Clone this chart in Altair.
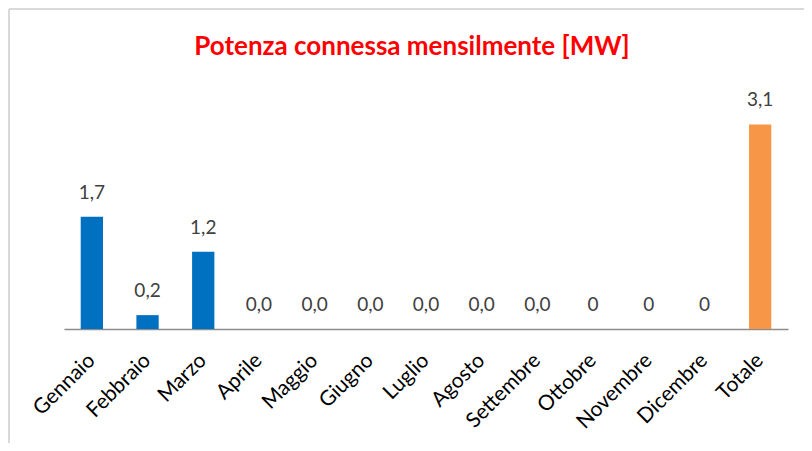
import altair as alt
import pandas as pd

categories = ["Gennaio", "Febbraio", "Marzo", "Aprile", "Maggio", "Giugno",
              "Luglio", "Agosto", "Settembre", "Ottobre", "Novembre", "Dicembre", "Totale"]
values = [1.7, 0.21, 1.17, 0, 0, 0, 0, 0, 0, 0, 0, 0, 3.1]
labels = ["1,7", "0,2", "1,2", "0,0", "0,0", "0,0", "0,0", "0,0", "0,0", "0", "0", "0", "3,1"]
kinds = ["mese"] * 12 + ["totale"]

df = pd.DataFrame({"cat": categories, "val": values, "lab": labels, "kind": kinds})

FONT = "Lato"

x = alt.X("cat:N", sort=categories, title=None,
          scale=alt.Scale(paddingInner=0.6, paddingOuter=0.3),
          axis=alt.Axis(labelAngle=-45, labelAlign="right", labelBaseline="middle",
                        labelPadding=28, labelFontSize=21, labelColor="#000000",
                        labelFont=FONT, ticks=False, domainColor="#8c8c8c",
                        domainWidth=1.5, labelOverlap=False))
y = alt.Y("val:Q", title=None, scale=alt.Scale(domain=[0, 3.5]), axis=None)

bars = alt.Chart(df).mark_bar().encode(
    x=x, y=y,
    color=alt.Color("kind:N", scale=alt.Scale(domain=["mese", "totale"],
                                              range=["#0070C0", "#F79646"]), legend=None),
)
text = alt.Chart(df).mark_text(baseline="alphabetic", dy=-18, fontSize=19,
                               color="#404040", font=FONT).encode(
    x=alt.X("cat:N", sort=categories), y="val:Q", text="lab:N")

border_left = alt.Chart(df).mark_rule(color="#d9d9d9", strokeWidth=2).encode(
    x=alt.value(-55), y=alt.value(-89), y2=alt.value(400))
border_top = alt.Chart(df).mark_rule(color="#d9d9d9", strokeWidth=2).encode(
    x=alt.value(-55), x2=alt.value(800), y=alt.value(-89))

chart = alt.layer(border_left, border_top, bars, text).properties(
    width=724, height=231,
    padding={"left": 56, "top": 90, "right": 16, "bottom": 114},
    autosize=alt.AutoSizeParams(type="none"),
    background="#ffffff",
    title=alt.Title("Potenza connessa mensilmente [MW]", color="#FF0000",
                    fontSize=26, fontWeight="bold", font=FONT, anchor="middle",
                    frame="group", offset=-52, dx=-14),
).configure_view(stroke=None)

chart.save("out.html", embed_options={"renderer": "svg", "actions": False})
